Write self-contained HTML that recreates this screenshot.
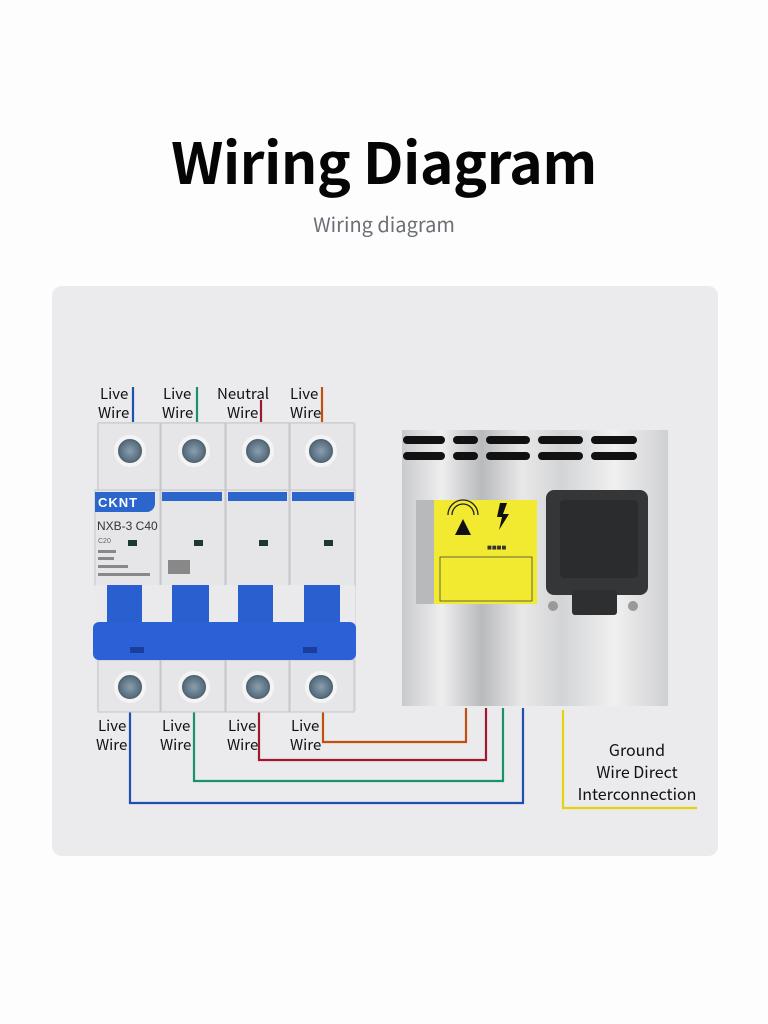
<!DOCTYPE html>
<html><head><meta charset="utf-8">
<style>
html,body{margin:0;padding:0;background:#fdfdfd;}
body{width:768px;height:1024px;overflow:hidden;position:relative;font-family:"Liberation Sans","Noto Sans CJK SC",sans-serif;}
.t{position:absolute;left:0;width:768px;text-align:center;}
</style></head><body>
<div class="t" style="top:118px;font-family:'Noto Sans CJK SC','Liberation Sans',sans-serif;font-weight:700;font-size:57px;line-height:84px;color:#050505;letter-spacing:-0.5px;">Wiring Diagram</div>
<div class="t" style="top:209px;font-family:'Noto Sans CJK SC','Liberation Sans',sans-serif;font-size:20px;line-height:30px;color:#6c7076;">Wiring diagram</div>
<svg width="768" height="1024" style="position:absolute;left:0;top:0" xmlns="http://www.w3.org/2000/svg">
<defs>
<linearGradient id="metal" x1="0" y1="0" x2="1" y2="0">
<stop offset="0" stop-color="#c9cacc"/><stop offset="0.15" stop-color="#eeeeef"/><stop offset="0.3" stop-color="#b9babc"/><stop offset="0.45" stop-color="#e8e8e9"/><stop offset="0.6" stop-color="#d3d4d5"/><stop offset="0.8" stop-color="#f0f0f1"/><stop offset="1" stop-color="#cfd0d1"/>
</linearGradient>
<radialGradient id="screw"><stop offset="0" stop-color="#8aa0b0"/><stop offset="0.7" stop-color="#5a7080"/><stop offset="1" stop-color="#3d4a55"/></radialGradient>
</defs>
<rect x="52" y="286" width="666" height="570" rx="10" fill="#ebebed"/>
<g fill="none" stroke-width="2.2">
<polyline points="130,712 130,803 523,803 523,708" stroke="#1f4fb0"/>
<polyline points="194,712 194,781 503,781 503,708" stroke="#1a9070"/>
<polyline points="259,712 259,760 486,760 486,708" stroke="#a01830"/>
<polyline points="323,712 323,742 466,742 466,708" stroke="#c05010"/>
<polyline points="563,710 563,808 697,808" stroke="#e8d010"/>
<line x1="133" y1="387" x2="133" y2="422" stroke="#1f4fb0"/>
<line x1="197" y1="387" x2="197" y2="422" stroke="#1a9070"/>
<line x1="261" y1="400" x2="261" y2="422" stroke="#a01830"/>
<line x1="322" y1="387" x2="322" y2="422" stroke="#c05010"/>
</g>
<rect x="97" y="422" width="259" height="290" rx="3" fill="#dcdcde"/>
<g fill="#e6e6e8" stroke="#c6c6c8">
<rect x="98" y="423" width="62" height="68"/><rect x="161" y="423" width="64" height="68"/><rect x="226" y="423" width="63" height="68"/><rect x="290" y="423" width="64" height="68"/>
<rect x="95" y="490" width="65" height="96"/><rect x="161" y="490" width="64" height="96"/><rect x="226" y="490" width="63" height="96"/><rect x="290" y="490" width="65" height="96"/>
<rect x="98" y="660" width="62" height="52"/><rect x="161" y="660" width="64" height="52"/><rect x="226" y="660" width="63" height="52"/><rect x="290" y="660" width="64" height="52"/>
</g>
<g fill="url(#screw)" stroke="#f4f4f4" stroke-width="4">
<circle cx="130" cy="451" r="14"/><circle cx="194" cy="451" r="14"/><circle cx="258" cy="451" r="14"/><circle cx="321" cy="451" r="14"/>
<circle cx="130" cy="687" r="14"/><circle cx="194" cy="687" r="14"/><circle cx="258" cy="687" r="14"/><circle cx="321" cy="687" r="14"/>
</g>
<path d="M95,492 H155 V503 Q155,510 148,512 H95 Z" fill="#2a66cc"/>
<text x="98" y="507" font-size="13" font-weight="700" fill="#fff" letter-spacing="1">CKNT</text>
<rect x="162" y="492" width="60" height="9" fill="#2a66cc"/><rect x="228" y="492" width="59" height="9" fill="#2a66cc"/><rect x="292" y="492" width="62" height="9" fill="#2a66cc"/>
<text x="97" y="530" font-size="12" fill="#333">NXB-3 C40</text>
<text x="98" y="543" font-size="7" fill="#666">C20</text>
<g fill="#888"><rect x="98" y="550" width="18" height="3"/><rect x="98" y="557" width="16" height="3"/><rect x="98" y="565" width="30" height="3"/><rect x="98" y="573" width="52" height="3"/><rect x="168" y="560" width="22" height="14"/></g>
<g fill="#1a3a30"><rect x="128" y="540" width="9" height="6"/><rect x="194" y="540" width="9" height="6"/><rect x="259" y="540" width="9" height="6"/><rect x="324" y="540" width="9" height="6"/></g>
<g fill="#eaeaec"><rect x="95" y="585" width="260" height="42"/></g>
<g fill="#2a5fd0"><rect x="107" y="585" width="35" height="42"/><rect x="172" y="585" width="37" height="42"/><rect x="238" y="585" width="35" height="42"/><rect x="304" y="585" width="36" height="42"/></g>
<rect x="93" y="622" width="263" height="38" rx="6" fill="#2b60d6"/>
<rect x="130" y="647" width="14" height="6" fill="#1a3f9a"/><rect x="303" y="647" width="14" height="6" fill="#1a3f9a"/>
<rect x="402" y="430" width="266" height="276" fill="url(#metal)"/>
<g fill="#111">
<rect x="403" y="436" width="42" height="8" rx="4"/><rect x="453" y="436" width="25" height="8" rx="4"/><rect x="486" y="436" width="44" height="8" rx="4"/><rect x="538" y="436" width="45" height="8" rx="4"/><rect x="591" y="436" width="46" height="8" rx="4"/>
<rect x="403" y="452" width="42" height="8" rx="4"/><rect x="453" y="452" width="25" height="8" rx="4"/><rect x="486" y="452" width="44" height="8" rx="4"/><rect x="538" y="452" width="45" height="8" rx="4"/><rect x="591" y="452" width="46" height="8" rx="4"/>
</g>
<rect x="416" y="500" width="30" height="104" fill="#b8b9bb"/>
<rect x="434" y="500" width="103" height="104" fill="#f2ea30"/>
<rect x="440" y="557" width="92" height="44" fill="none" stroke="#444" stroke-width="0.8"/>
<path d="M455,535 L463,519 L471,535 Z" fill="#111"/>
<path d="M500,503 L507,503 L503,514 L509,514 L499,530 L502,517 L497,517 Z" fill="#111"/>
<path d="M448,515 a12,12 0 0 1 30,0 M452,515 a8,8 0 0 1 22,0" fill="none" stroke="#222" stroke-width="1.3"/>
<text x="487" y="550" font-size="8" fill="#333">■■■■</text>
<rect x="546" y="490" width="102" height="105" rx="8" fill="#353637"/>
<rect x="560" y="500" width="78" height="78" rx="4" fill="#2b2c2d"/>
<rect x="572" y="590" width="45" height="25" rx="3" fill="#2e2f30"/>
<circle cx="553" cy="606" r="5" fill="#999"/><circle cx="633" cy="606" r="5" fill="#999"/>
<g font-family="'Noto Sans CJK SC','Liberation Sans',sans-serif" font-size="15" fill="#111">
<text x="100" y="399">Live</text><text x="98" y="418">Wire</text>
<text x="163" y="399">Live</text><text x="162" y="418">Wire</text>
<text x="217" y="399">Neutral</text><text x="227" y="418">Wire</text>
<text x="290" y="399">Live</text><text x="290" y="418">Wire</text>
<text x="98" y="731">Live</text><text x="96" y="750">Wire</text>
<text x="162" y="731">Live</text><text x="160" y="750">Wire</text>
<text x="228" y="731">Live</text><text x="227" y="750">Wire</text>
<text x="291" y="731">Live</text><text x="290" y="750">Wire</text>
</g>
<g font-family="'Noto Sans CJK SC','Liberation Sans',sans-serif" font-size="16" fill="#111">
<text x="637" y="756" text-anchor="middle">Ground</text>
<text x="637" y="778" text-anchor="middle">Wire Direct</text>
<text x="637" y="800" text-anchor="middle">Interconnection</text>
</g>
</svg>
</body></html>
